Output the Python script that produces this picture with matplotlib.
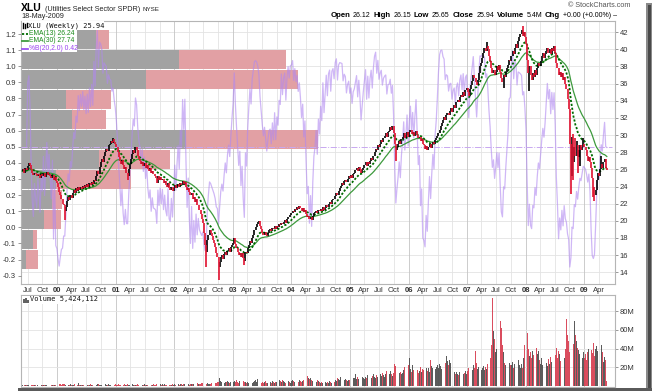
import numpy as np
import pandas as pd
import matplotlib
matplotlib.use("Agg")
import matplotlib.pyplot as plt
import matplotlib.dates as mdates
from matplotlib.transforms import blended_transform_factory
from matplotlib.patches import Rectangle
from matplotlib.lines import Line2D
from matplotlib.offsetbox import TextArea, HPacker, AnnotationBbox

plt.rcParams['font.family'] = ['Liberation Sans', 'DejaVu Sans']

# ---------------- data (weekly closes) ----------------
c1999 = [25.8, 26.0, 25.6, 26.2, 25.9, 26.4, 26.7, 26.5, 26.0, 25.6,
         25.3, 25.6, 25.4, 25.2, 25.5, 25.3, 25.0, 25.4, 25.2, 25.6,
         25.1, 25.4, 25.7, 25.3, 25.5, 25.2, 25.0, 25.3, 24.8, 25.1,
         24.6, 24.4]
c2000 = [24.0, 23.4, 23.0, 22.6, 22.0, 21.8, 21.2, 21.6, 22.3, 22.8, 22.4, 23.0, 22.7,
         23.2, 23.6, 23.3, 23.8, 23.5, 24.0, 23.6, 23.9, 23.7, 24.1, 23.8, 24.2, 23.9,
         24.3, 24.0, 24.4, 24.2, 24.5, 24.3, 24.8, 24.6, 25.2, 25.8, 25.5, 26.3, 26.8,
         27.2, 26.9, 27.6, 28.0, 28.4, 28.1, 28.8, 29.0, 29.3, 29.1, 29.5, 29.2, 29.0]
c2001 = [28.6, 28.0, 27.4, 27.0, 26.6, 27.1, 26.5, 26.0, 26.3, 25.6, 25.2, 26.0, 26.6,
         27.2, 27.8, 28.2, 27.9, 28.6, 28.3, 27.6, 27.2, 27.0, 26.6, 26.9, 26.4, 26.7,
         26.2, 26.5, 26.0, 25.8, 26.1, 25.6, 25.8, 25.4, 25.2, 25.0, 24.4, 25.2, 24.8,
         25.1, 24.7, 24.9, 24.4, 24.6, 24.2, 24.0, 24.4, 23.8, 23.6, 23.9, 23.5, 23.8]
c2002 = [24.2, 23.8, 24.1, 24.3, 24.0, 24.4, 24.2, 24.6, 24.3, 24.5, 24.0, 23.6, 23.8,
         23.4, 23.0, 23.3, 22.6, 22.8, 22.2, 22.5, 21.8, 21.9, 21.3, 20.8, 20.2, 19.8,
         18.6, 17.2, 16.4, 17.8, 18.4, 18.9, 18.6, 18.2, 17.8, 17.4, 16.9, 16.2, 15.8,
         14.6, 15.2, 15.8, 16.0, 15.6, 16.1, 16.4, 16.0, 16.5, 16.8, 16.4, 16.9, 17.2]
c2003 = [17.4, 18.0, 17.3, 16.8, 16.4, 16.0, 16.3, 15.8, 16.2, 15.7, 15.3, 16.4, 16.2,
         16.8, 17.2, 17.6, 17.4, 18.0, 18.4, 18.9, 19.3, 19.6, 19.9, 20.0, 19.4, 19.0,
         18.6, 18.3, 18.7, 18.4, 18.2, 18.6, 18.9, 19.0, 18.8, 19.2, 19.0, 19.4, 19.1,
         19.4, 19.3, 19.6, 19.5, 19.8, 19.6, 19.9, 20.1, 19.8, 20.2, 20.5, 20.4, 20.7]
c2004 = [20.9, 21.2, 21.0, 21.4, 21.3, 21.6, 21.4, 21.7, 21.5, 21.2, 21.5, 21.0, 21.3,
         20.8, 20.4, 20.6, 20.2, 20.5, 20.1, 20.6, 20.9, 21.0, 21.2, 20.9, 21.3, 21.1,
         21.4, 21.2, 21.6, 21.3, 21.5, 21.8, 21.6, 22.0, 22.2, 22.0, 22.4, 22.6, 22.5,
         22.9, 23.2, 23.0, 23.5, 23.8, 24.1, 24.4, 24.2, 24.6, 24.8, 24.5, 24.9, 25.2, 25.0]
c2005 = [25.3, 25.0, 25.4, 25.6, 25.9, 26.2, 25.8, 26.3, 26.0, 25.6, 25.9, 26.2, 26.5,
         26.8, 26.4, 26.9, 26.6, 27.0, 27.3, 27.1, 27.6, 28.0, 28.4, 28.2, 28.8, 28.6,
         29.0, 29.4, 29.2, 29.6, 29.9, 30.2, 29.8, 30.3, 30.5, 30.9, 30.6, 31.0, 30.2,
         29.0, 28.2, 28.6, 28.9, 29.3, 29.0, 29.5, 29.8, 30.2, 29.7, 30.0, 30.4, 29.8]
c2006 = [30.3, 30.6, 30.1, 30.4, 29.9, 30.2, 30.5, 30.0, 29.6, 29.8, 29.3, 29.5, 29.0,
         28.8, 28.4, 28.7, 28.2, 28.6, 29.0, 28.5, 28.9, 29.2, 28.9, 29.4, 29.6, 29.9,
         30.2, 30.6, 31.0, 31.4, 31.7, 32.1, 31.8, 32.3, 32.6, 32.3, 32.8, 33.1, 32.7,
         33.2, 33.5, 33.1, 33.8, 34.1, 33.8, 34.4, 34.7, 34.4, 35.0, 34.6, 35.2, 35.5]
c2007 = [35.0, 34.6, 35.4, 35.8, 36.3, 37.0, 36.6, 36.2, 35.8, 36.4, 37.2, 38.0, 38.4,
         39.0, 39.6, 40.2, 39.8, 40.4, 40.0, 39.2, 38.6, 37.8, 37.2, 37.6, 37.0, 37.4,
         38.0, 37.6, 38.2, 37.4, 36.6, 36.2, 37.0, 36.8, 37.4, 37.8, 38.2, 38.8, 38.6,
         39.2, 39.8, 39.4, 40.2, 40.6, 40.2, 41.0, 41.4, 41.8, 42.2, 41.6, 42.0, 41.4]
c2008 = [40.6, 38.8, 37.2, 38.0, 37.0, 36.4, 37.2, 36.8, 37.6, 37.0, 37.8, 38.4, 38.0,
         38.6, 39.2, 39.6, 39.0, 39.4, 39.8, 40.2, 39.6, 40.0, 39.4, 40.2, 39.8, 40.4,
         39.6, 38.4, 37.8, 37.0, 37.4, 36.8, 37.2, 36.4, 36.8, 36.0, 35.4, 34.2, 33.0,
         29.0, 27.0, 28.4, 26.8, 28.6, 27.6, 28.8, 27.4, 28.2, 28.8, 28.2, 28.6, 29.0]
c2009 = [28.6, 28.2, 27.6, 27.0, 27.4, 26.8, 26.2, 25.0, 24.0, 23.0, 23.6, 24.8, 25.6,
         25.2, 26.0, 26.6, 26.2, 26.8, 27.2, 26.1, 25.94]

# weekly volume, millions
v1999 = [0.8, 0.6, 1.0, 0.7, 0.9, 1.2, 0.8, 0.6, 1.0, 0.9, 0.7, 1.1, 0.8, 0.6, 0.9, 1.0,
         0.7, 1.3, 0.8, 1.0, 0.9, 0.7, 1.1, 0.8, 1.0, 0.6, 0.9, 1.2, 1.0, 0.8, 0.7, 0.9]
v2000 = [1.4, 1.8, 2.0, 1.6, 1.9, 2.2, 1.7, 1.5, 1.8, 1.3, 1.6, 2.0, 1.4,
         1.2, 1.5, 1.8, 1.6, 1.4, 3.0, 1.1, 1.3, 1.6, 1.2, 1.5, 1.8, 11.0,
         1.6, 1.2, 1.4, 1.9, 1.3, 1.1, 1.6, 2.2, 1.5, 2.4, 1.8, 1.3, 1.6,
         1.2, 1.5, 2.0, 1.7, 1.3, 1.5, 1.8, 1.4, 1.2, 1.6, 1.3, 1.5, 1.7]
v2001 = [1.6, 1.3, 1.8, 1.5, 1.2, 1.7, 1.4, 2.0, 1.6, 1.3, 1.9, 1.5, 1.2,
         1.4, 1.8, 1.6, 1.3, 1.1, 1.5, 1.7, 1.4, 1.2, 1.6, 1.3, 1.5, 1.8,
         1.4, 1.2, 1.6, 1.9, 2.2, 1.5, 1.3, 1.7, 1.4, 1.6, 1.9, 1.5, 1.3,
         1.8, 1.6, 2.0, 1.4, 1.7, 1.5, 1.3, 1.8, 1.6, 1.4, 1.2, 1.7, 1.5]
v2002 = [1.8, 1.5, 2.0, 1.7, 1.4, 1.9, 2.2, 1.6, 1.8, 2.4, 1.5, 1.7, 2.0,
         1.6, 2.3, 1.8, 2.6, 2.0, 1.7, 2.2, 2.8, 2.4, 2.0, 2.6, 3.2, 2.8,
         3.6, 2.4, 2.2, 2.9, 2.5, 2.1, 2.7, 3.0, 2.6, 3.4, 3.8, 3.2, 4.0,
         4.4, 8.2, 5.0, 4.2, 4.8, 3.6, 4.4, 3.9, 5.2, 4.6, 3.8, 4.4, 4.0]
v2003 = [4.6, 5.2, 4.0, 6.8, 4.4, 3.8, 5.0, 4.2, 3.6, 5.4, 4.8, 4.0, 3.5,
         4.2, 3.6, 5.0, 4.4, 3.8, 4.6, 5.2, 6.0, 4.8, 7.2, 5.0, 4.2, 3.8,
         4.4, 3.6, 4.0, 5.2, 3.8, 3.4, 4.6, 4.0, 3.6, 5.0, 4.4, 3.8, 4.2,
         4.8, 8.2, 6.4, 5.0, 4.4, 6.0, 5.2, 4.6, 3.8, 4.2, 5.6, 4.0, 3.6]
v2004 = [5.0, 6.2, 5.4, 4.6, 7.0, 5.8, 4.8, 6.4, 5.2, 4.4, 5.6, 6.8, 5.0,
         9.8, 10.6, 8.4, 7.2, 9.0, 6.2, 5.4, 7.6, 5.0, 4.6, 6.2, 5.6, 4.8,
         3.8, 4.4, 3.6, 5.0, 4.2, 3.4, 4.6, 3.8, 5.2, 4.0, 3.6, 4.4, 4.8,
         6.6, 5.4, 8.8, 7.2, 6.0, 9.6, 12.0, 7.4, 6.2, 8.0, 6.8, 5.6, 7.0, 6.2]
v2005 = [7.6, 10.4, 8.2, 9.0, 12.8, 7.4, 9.6, 8.0, 11.2, 14.8, 9.4, 8.6, 7.8,
         10.2, 8.8, 12.0, 9.6, 11.4, 8.4, 10.8, 13.2, 9.8, 8.6, 11.6, 10.0, 9.2,
         12.4, 10.6, 14.2, 11.8, 10.0, 12.8, 15.6, 11.2, 13.4, 16.2, 12.6, 10.8, 14.0,
         24.0, 21.4, 18.6, 16.0, 13.8, 15.2, 12.6, 14.4, 17.0, 20.2, 15.8, 13.6, 22.0]
v2006 = [30.0, 18.4, 15.2, 22.6, 16.8, 14.2, 19.6, 17.0, 13.8, 16.4, 20.8, 15.0, 18.2,
         17.4, 14.6, 19.0, 16.2, 18.8, 15.4, 28.0, 21.2, 19.6, 23.0, 18.4, 20.6, 22.4,
         19.2, 23.8, 21.0, 18.2, 22.6, 20.4, 24.2, 32.0, 26.4, 22.0, 28.2, 24.6, 21.4,
         20.6, 14.8, 12.6, 15.4, 13.2, 12.0, 14.6, 13.8, 15.8, 12.4, 14.2, 16.6, 13.0]
v2007 = [16.4, 18.8, 15.2, 19.6, 17.0, 22.4, 19.8, 37.0, 24.6, 18.2, 20.6, 32.0, 17.4,
         19.2, 21.4, 17.6, 20.8, 18.6, 24.0, 48.0, 30.0, 44.0, 94.0, 59.0, 50.0, 36.0,
         40.0, 46.0, 62.0, 70.0, 62.0, 44.0, 36.0, 25.0, 22.0, 24.0, 20.0, 25.0, 23.0,
         22.0, 26.0, 19.0, 24.0, 21.0, 30.0, 28.0, 22.0, 19.0, 24.0, 19.0, 30.0, 44.0]
v2008 = [45, 57, 40, 32, 36, 30, 37, 33, 28, 41, 34, 37, 28,
         24, 30, 22, 27, 33, 25, 21, 29, 24, 31, 26, 22, 28,
         33, 41, 30, 37, 34, 27, 24, 22, 30, 40, 72, 55, 48,
         36, 57, 50, 45, 69, 55, 48, 41, 38, 34, 37, 30, 36]
v2009 = [30, 34, 28, 36, 40, 46, 38, 35, 46, 32, 40, 43, 37, 34, 30, 44, 36, 26, 31, 28, 5.4]

# notable weekly extremes (wicks)
low_dates = ['2000-02-18', '2001-03-16', '2002-07-19', '2002-10-04', '2003-03-14',
             '2005-10-14', '2007-08-17', '2008-01-25', '2008-10-10', '2008-10-17',
             '2008-10-24', '2008-11-21', '2008-12-05', '2009-03-06', '2009-02-27']
low_values = [20.1, 24.8, 14.6, 13.1, 14.9, 27.0, 35.5, 35.1, 23.1, 25.2,
              24.8, 25.6, 26.4, 22.3, 22.8]
high_dates = ['2000-12-15', '2005-09-23', '2007-05-04', '2007-12-14', '2008-10-17',
              '2008-10-24', '2008-11-07', '2008-11-14', '2008-12-26', '2009-04-17']
high_values = [29.6, 31.1, 40.9, 42.7, 29.8, 30.1, 29.6, 29.3, 29.6, 27.6]

# volume-by-price zones (lowest zone first), volume in millions
vbp_low, vbp_high = 14.27, 42.27
vbp_up = [25, 60, 115, 155, 175, 390, 820, 255, 225, 625, 785, 375]
vbp_down = [60, 20, 85, 50, 375, 350, 660, 170, 225, 755, 535, 65]

start_date = '1999-05-28'
# --------------------------------------------------------------------------

closes = c1999 + c2000 + c2001 + c2002 + c2003 + c2004 + c2005 + c2006 + c2007 + c2008 + c2009
volumes = v1999 + v2000 + v2001 + v2002 + v2003 + v2004 + v2005 + v2006 + v2007 + v2008 + v2009
n = min(len(closes), len(volumes))
closes = closes[:n]
volumes = volumes[:n]
dates = pd.date_range(start_date, periods=n, freq='W-FRI')
s = pd.Series(closes, index=dates, dtype=float)
opens = s.shift(1).fillna(s.iloc[0])
hi = np.maximum(opens, s)
lo = np.minimum(opens, s)
for d, v in zip(low_dates, low_values):
    d = pd.Timestamp(d)
    if d in lo.index:
        lo[d] = min(lo[d], v)
for d, v in zip(high_dates, high_values):
    d = pd.Timestamp(d)
    if d in hi.index:
        hi[d] = max(hi[d], v)
up = (s >= opens).values

ema13 = s.ewm(span=13, adjust=False).mean()
ema30 = s.ewm(span=30, adjust=False).mean()
mid = s.rolling(20, min_periods=5).mean()
sd = s.rolling(20, min_periods=5).std(ddof=0)
pctb = (s - (mid - 2 * sd)) / (4 * sd)

xd = mdates.date2num(dates)

# ---------------- figure ----------------
W, H = 654, 391
fig = plt.figure(figsize=(W / 100, H / 100), dpi=100)
fig.patch.set_facecolor('white')


def fx(x):
    return x / W


def fy(y):
    return 1 - y / H


L, R = 21, 615
main_rect = [fx(L), fy(284), fx(R) - fx(L), fy(21) - fy(284)]
vol_rect = [fx(L), fy(387), fx(R) - fx(L), fy(295) - fy(387)]

GRID = '#e3e3e3'
GRID_Y = '#c4c4c4'
SPINE = '#b5b5b5'
RED = '#e0102f'
TICKC = '#333333'

xmin = mdates.date2num(pd.Timestamp('1999-05-21'))
xmax = mdates.date2num(pd.Timestamp('2009-07-12'))
qdates = pd.date_range('1999-07-01', '2009-04-01', freq='QS')
qnum = mdates.date2num(qdates)

# price axes (bottom layer: grid + volume-by-price)
ax_p = fig.add_axes(main_rect, zorder=1)
ax_p.set_xlim(xmin, xmax)
ax_p.set_ylim(12.63, 43.3)
ax_p.set_yticks(range(14, 43, 2))
ax_p.yaxis.tick_right()
ax_p.tick_params(axis='y', length=2, width=0.6, color='#888888', labelsize=5.5,
                 pad=1.5, labelcolor=TICKC)
for yv in range(14, 43, 2):
    ax_p.axhline(yv, color=GRID, lw=0.6, zorder=0)
for q, d in zip(qnum, qdates):
    ax_p.axvline(q, color=GRID_Y if d.month == 1 else GRID, lw=0.6, zorder=0)
ax_p.set_xticks(qnum)
ax_p.set_xticklabels([d.strftime('%y') if d.month == 1 else d.strftime('%b') for d in qdates])
for lab, d in zip(ax_p.get_xticklabels(), qdates):
    if d.month == 1:
        lab.set_fontweight('bold')
ax_p.tick_params(axis='x', length=0, labelsize=5.5, pad=2.5, labelcolor=TICKC)
for sp in ax_p.spines.values():
    sp.set_color(SPINE)
    sp.set_linewidth(0.8)

# volume by price bars
trans = blended_transform_factory(ax_p.transAxes, ax_p.transData)
nz = len(vbp_up)
zh = (vbp_high - vbp_low) / nz
vmax = max(u + d for u, d in zip(vbp_up, vbp_down)) / 0.5
for i, (u, dn) in enumerate(zip(vbp_up, vbp_down)):
    y0 = vbp_low + i * zh + 0.06
    hgt = zh - 0.12
    ax_p.add_patch(Rectangle((0, y0), u / vmax, hgt, transform=trans,
                             facecolor='#a2a2a2', edgecolor='none', zorder=2))
    ax_p.add_patch(Rectangle((u / vmax, y0), dn / vmax, hgt, transform=trans,
                             facecolor='#e2a0a4', edgecolor='none', zorder=2))

# %B axes (middle layer)
ax_b = fig.add_axes(main_rect, zorder=2, sharex=ax_p)
ax_b.patch.set_visible(False)
ax_b.set_ylim(-0.352, 1.281)
bt = np.round(np.arange(-0.3, 1.21, 0.1), 1)
ax_b.set_yticks(bt)
ax_b.set_yticklabels(['%.1f' % (v + 0.0) for v in bt])
ax_b.yaxis.tick_left()
ax_b.tick_params(axis='y', length=2, width=0.6, color='#888888', labelsize=5.5,
                 pad=1.5, labelcolor=TICKC)
ax_b.xaxis.set_visible(False)
for sp in ax_b.spines.values():
    sp.set_visible(False)
ax_b.plot(xd, pctb.values, color='#b088f0', alpha=0.6, lw=0.9)
ax_b.axhline(0.5, color='#c8a8f0', lw=0.7, ls='-.', xmax=0.995)

# price overlay (top layer)
ax_t = fig.add_axes(main_rect, zorder=3, sharex=ax_p, sharey=ax_p)
ax_t.patch.set_visible(False)
ax_t.axis('off')
ax_t.plot(xd, ema30.values, color='#3d9a3d', lw=0.9)
ax_t.plot(xd, ema13.values, color='#006a00', lw=1.3, ls=(0, (1.2, 1.0)))
ax_t.vlines(xd[up], lo.values[up], hi.values[up], color='black', lw=1.2)
ax_t.vlines(xd[~up], lo.values[~up], hi.values[~up], color=RED, lw=1.2)

# volume panel
ax_v = fig.add_axes(vol_rect, sharex=ax_p, zorder=1)
ax_v.set_ylim(-1, 97.3)
for q, d in zip(qnum, qdates):
    ax_v.axvline(q, color=GRID_Y if d.month == 1 else GRID, lw=0.6, zorder=0)
for yv in (20, 40, 60, 80):
    ax_v.axhline(yv, color=GRID, lw=0.6, zorder=0)
vcols = np.where(up, '#4a4a4a', '#d63a4c')
ax_v.bar(xd, volumes, width=5.0, color=vcols, alpha=0.9, zorder=2, linewidth=0)
ax_v.set_yticks([20, 40, 60, 80])
ax_v.set_yticklabels(['20M', '40M', '60M', '80M'])
ax_v.yaxis.tick_right()
ax_v.tick_params(axis='y', length=2, width=0.6, color='#888888', labelsize=5.5,
                 pad=1.5, labelcolor=TICKC)
ax_v.tick_params(axis='x', length=0, labelbottom=False)
for sp in ax_v.spines.values():
    sp.set_color(SPINE)
    sp.set_linewidth(0.8)

# ---------------- header texts ----------------
title = HPacker(children=[
    TextArea('XLU', textprops=dict(fontsize=7.5, fontweight='bold', color='black')),
    TextArea('(Utilities Select Sector SPDR)', textprops=dict(fontsize=5.2, color='#222222')),
    TextArea('NYSE', textprops=dict(fontsize=4.5, color='#222222')),
], align='baseline', pad=0, sep=2)
fig.add_artist(AnnotationBbox(title, (fx(21), fy(8)), xycoords='figure fraction',
                              box_alignment=(0, 0.5), frameon=False, pad=0))
fig.text(fx(21), fy(16), '18-May-2009', fontsize=5.2, color='#222222', va='center', ha='left')
fig.text(fx(630), fy(5.5), '\u00a9 StockCharts.com', fontsize=5.2, color='#555555',
         va='center', ha='right')

parts = [('Open', True), ('26.12', False), ('High', True), ('26.15', False),
         ('Low', True), ('25.65', False), ('Close', True), ('25.94', False),
         ('Volume', True), ('5.4M', False), ('Chg', True), ('+0.00 (+0.00%) \u2013', False)]
kids = [TextArea(t, textprops=dict(fontsize=5.6 if b else 5.0,
                                   fontweight='bold' if b else 'normal', color='black'))
        for t, b in parts]
info = HPacker(children=kids, align='baseline', pad=0, sep=2)
fig.add_artist(AnnotationBbox(info, (fx(617), fy(15.5)), xycoords='figure fraction',
                              box_alignment=(1, 0.5), frameon=False, pad=0))

# ---------------- legends ----------------
fig.add_artist(Rectangle((fx(21.5), fy(29.5)), fx(104) - fx(21.5), fy(21.5) - fy(29.5),
                         transform=fig.transFigure, facecolor='white', edgecolor='none', zorder=9))
fig.add_artist(Rectangle((fx(21.5), fy(52)), fx(77) - fx(21.5), fy(29.5) - fy(52),
                         transform=fig.transFigure, facecolor='white', edgecolor='none', zorder=9))
mono = dict(family='DejaVu Sans Mono', fontsize=5.0, va='center', ha='left', zorder=10)
prop = dict(family='Liberation Sans', fontsize=4.9, va='center', ha='left', zorder=10)
# icons
for xx, y1, y2 in ((23, 23, 28), (25, 24, 27.5), (27, 22.8, 27)):
    fig.add_artist(Line2D([fx(xx), fx(xx)], [fy(y1), fy(y2)], color='black', lw=1.0,
                          transform=fig.transFigure, zorder=10))
fig.text(fx(28.5), fy(25.5), 'XLU (Weekly) 25.94', color='#111111', **mono)
fig.add_artist(Line2D([fx(22), fx(28)], [fy(33.5), fy(33.5)], color='#006a00', lw=1.3,
                      ls=(0, (1.2, 1.0)), transform=fig.transFigure, zorder=10))
fig.text(fx(29), fy(33.5), 'EMA(13) 26.24', color='#1a8a1a', **prop)
fig.add_artist(Line2D([fx(22), fx(28)], [fy(41), fy(41)], color='#3d9a3d', lw=1.3,
                      transform=fig.transFigure, zorder=10))
fig.text(fx(29), fy(41), 'EMA(30) 27.74', color='#1a8a1a', **prop)
fig.add_artist(Line2D([fx(22), fx(28)], [fy(48.5), fy(48.5)], color='#9a50f0', lw=1.3,
                      transform=fig.transFigure, zorder=10))
fig.text(fx(29), fy(48.5), '%B(20,2.0) 0.42', color='#9a40f0', **prop)

fig.add_artist(Rectangle((fx(21.5), fy(303.5)), fx(99) - fx(21.5), fy(295.5) - fy(303.5),
                         transform=fig.transFigure, facecolor='white', edgecolor='none', zorder=9))
for xx, y1, y2 in ((23.5, 302.5, 299), (25.5, 302.5, 297.5), (27.5, 302.5, 300)):
    fig.add_artist(Line2D([fx(xx), fx(xx)], [fy(y1), fy(y2)], color='#444444', lw=1.2,
                          transform=fig.transFigure, zorder=10, solid_capstyle='butt'))
fig.text(fx(29.5), fy(299.5), 'Volume 5,424,112', color='#111111', **mono)

# drop shadow of the screenshot frame
fig.add_artist(Rectangle((fx(646), fy(390)), fx(652) - fx(646), fy(3) - fy(390),
                         transform=fig.transFigure, facecolor='#8a8a8a', edgecolor='none', zorder=0))
fig.add_artist(Rectangle((fx(648), fy(390)), fx(651) - fx(648), fy(5) - fy(390),
                         transform=fig.transFigure, facecolor='#4a4a4a', edgecolor='none', zorder=0))
fig.add_artist(Rectangle((fx(18), fy(390.5)), fx(652) - fx(18), fy(387.5) - fy(390.5),
                         transform=fig.transFigure, facecolor='#5a5a5a', edgecolor='none', zorder=0))

fig.savefig('out.png', dpi=100, facecolor='white')
